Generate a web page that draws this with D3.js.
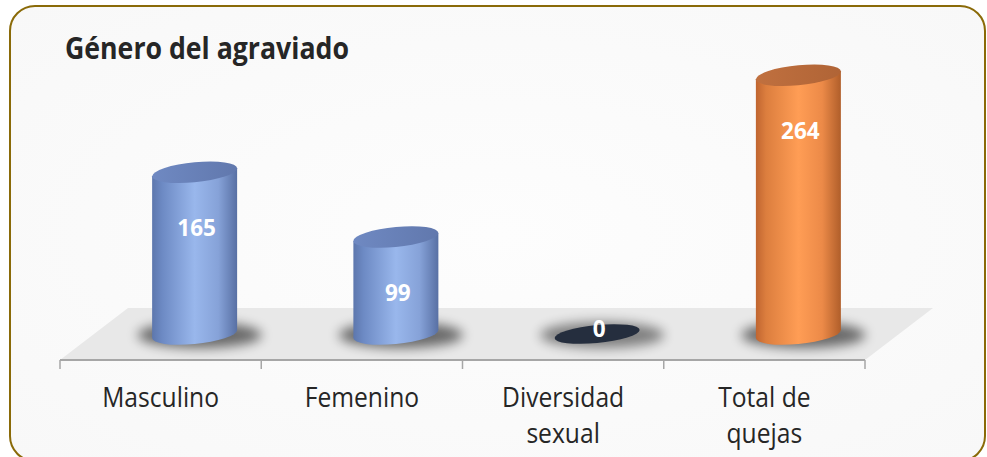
<!DOCTYPE html>
<html>
<head>
<meta charset="utf-8">
<script src="https://cdn.jsdelivr.net/npm/d3@7"></script>
<style>
  html, body { margin: 0; padding: 0; background: #ffffff; }
  svg { display: block; }
</style>
</head>
<body>
<script>
const categories = [["Masculino"], ["Femenino"], ["Diversidad", "sexual"], ["Total de", "quejas"]];
const values = [165, 99, 0, 264];
const seriesKind = ["blue", "blue", "dark", "orange"];
const title = "Género del agraviado";

const W = 987, H = 457;
const svg = d3.select("body").append("svg").attr("width", W).attr("height", H);
const defs = svg.append("defs");

function hGrad(id, stops) {
  const g = defs.append("linearGradient").attr("id", id).attr("x1", "0%").attr("x2", "100%").attr("y1", "0%").attr("y2", "0%");
  stops.forEach(([o, c]) => g.append("stop").attr("offset", o).attr("stop-color", c));
}
hGrad("blueBody", [["0%", "#5d77ad"], ["12%", "#6d8ac4"], ["50%", "#99b7ec"], ["78%", "#86a2d8"], ["100%", "#5870a4"]]);
hGrad("blueTop", [["0%", "#6f89c2"], ["100%", "#6178ad"]]);
hGrad("orangeBody", [["0%", "#c06530"], ["12%", "#dc7e3e"], ["50%", "#ff9d55"], ["78%", "#ec8a48"], ["100%", "#b05e2a"]]);
hGrad("orangeTop", [["0%", "#c0703f"], ["100%", "#b06436"]]);
const bg = defs.append("radialGradient").attr("id", "bgGrad").attr("cx", "50%").attr("cy", "50%").attr("r", "70%");
bg.append("stop").attr("offset", "0%").attr("stop-color", "#fdfdfd");
bg.append("stop").attr("offset", "100%").attr("stop-color", "#f8f8f8");
const blur = defs.append("filter").attr("id", "blur").attr("x", "-50%").attr("y", "-100%").attr("width", "200%").attr("height", "300%");
blur.append("feGaussianBlur").attr("stdDeviation", 6);

svg.append("rect").attr("x", 10).attr("y", 6).attr("width", 975).attr("height", 455)
  .attr("rx", 25).attr("ry", 25).attr("fill", "url(#bgGrad)").attr("stroke", "#8a6a08").attr("stroke-width", 2);

svg.append("text").attr("transform", "translate(65,59) scale(0.89,1)")
  .attr("font-family", "'Open Sans', sans-serif").attr("font-weight", 700).attr("font-size", 30)
  .attr("fill", "#262626").text(title);

const floorY = 360, depthX = 68, depthY = 52;
const x = d3.scaleBand().domain(d3.range(categories.length)).range([60, 865]).paddingInner(0).paddingOuter(0);
const baseY = floorY - depthY / 2;
const y = d3.scaleLinear().domain([0, 300]).range([baseY, baseY - 294]);

const x0 = x.range()[0], x1 = x.range()[1];
svg.append("path")
  .attr("d", `M${x0},${floorY} L${x1},${floorY} L${x1 + depthX},${floorY - depthY} L${x0 + depthX},${floorY - depthY} Z`)
  .attr("fill", "#e8e8e8");

const axG = svg.append("g").attr("transform", `translate(0,${floorY})`);
axG.append("line").attr("x1", x0).attr("x2", x1).attr("y1", 0).attr("y2", 0).attr("stroke", "#a6a6a6").attr("stroke-width", 2);
const tickPos = d3.range(categories.length + 1).map(i => x0 + i * x.bandwidth());
axG.selectAll(".tk").data(tickPos).join("line").attr("x1", d => d).attr("x2", d => d)
  .attr("y1", 0).attr("y2", 9).attr("stroke", "#a6a6a6").attr("stroke-width", 1.5);

categories.forEach((lines, i) => {
  const cx = x(i) + x.bandwidth() / 2;
  lines.forEach((ln, j) => {
    svg.append("text").attr("transform", `translate(${cx},${407 + j * 36}) scale(0.93,1)`)
      .attr("text-anchor", "middle").attr("font-family", "'Open Sans', sans-serif").attr("font-size", 26.5)
      .attr("fill", "#262626").text(ln);
  });
});

const rx = 42.5, ry = 10, shear = -4 / 42.5;
values.forEach((v, i) => {
  const cx = x(i) + x.bandwidth() / 2 + depthX / 2;
  const kind = seriesKind[i];
  svg.append("ellipse").attr("cx", cx + 5).attr("cy", baseY + 1).attr("rx", 62).attr("ry", 13)
    .attr("fill", "#000").attr("opacity", kind === "dark" ? 0.45 : 0.55).attr("filter", "url(#blur)");
  const g = svg.append("g").attr("transform", `translate(${cx},0) matrix(1,${shear},0,1,0,0)`);
  if (kind === "dark") {
    g.append("ellipse").attr("cx", 0).attr("cy", baseY).attr("rx", rx).attr("ry", 9).attr("fill", "#252e3e");
  } else {
    const body = kind === "blue" ? "url(#blueBody)" : "url(#orangeBody)";
    const top = kind === "blue" ? "url(#blueTop)" : "url(#orangeTop)";
    g.append("ellipse").attr("cx", 0).attr("cy", baseY).attr("rx", rx).attr("ry", ry).attr("fill", body);
    g.append("rect").attr("x", -rx).attr("width", 2 * rx).attr("y", y(v)).attr("height", baseY - y(v)).attr("fill", body);
    g.append("ellipse").attr("cx", 0).attr("cy", y(v)).attr("rx", rx).attr("ry", ry).attr("fill", top);
  }
  svg.append("text").attr("x", cx + 2).attr("y", v > 0 ? y(v) + 64 : baseY + 3)
    .attr("text-anchor", "middle").attr("font-family", "'Open Sans', sans-serif").attr("font-weight", 700)
    .attr("font-size", 22.5).attr("fill", "#ffffff").text(v);
});
</script>
</body>
</html>
